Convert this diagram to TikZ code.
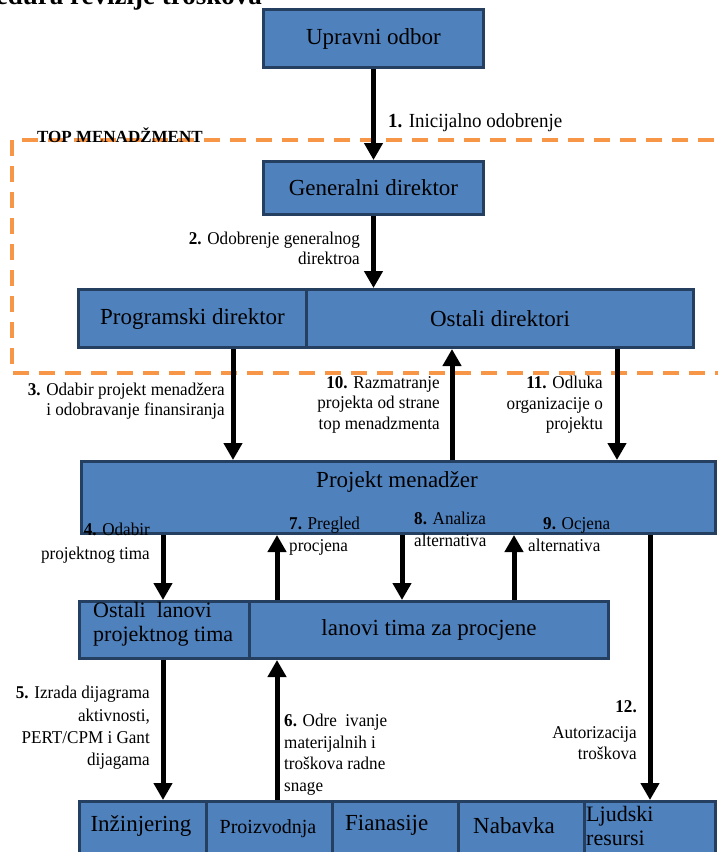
\documentclass[tikz,border=0pt]{standalone}
\usepackage{fontspec}
\setmainfont{Liberation Serif}
\newfontfamily\lblfont{Liberation Serif}[FakeStretch=0.95]
\usetikzlibrary{arrows.meta}
\definecolor{boxfill}{HTML}{4F81BD}
\definecolor{boxline}{HTML}{243F60}
\definecolor{topdash}{HTML}{F79646}
\begin{document}
\begin{tikzpicture}[x=1pt,y=-1pt,
  box/.style={draw=boxline, line width=3pt, fill=boxfill, anchor=north west, inner sep=0pt,
    font=\fontsize{23}{26}\selectfont, align=center},
  boxtxt/.style={inner sep=0pt, font=\fontsize{23}{25}\selectfont, align=left},
  arr/.style={line width=5pt, -{Triangle[width=18pt,length=17pt]}},
  lbl/.style={inner sep=0pt, font=\lblfont\fontsize{18}{21.5}\selectfont},
  dashbox/.style={draw=topdash, line width=4pt, dash pattern=on 16pt off 10pt}]
\useasboundingbox (0,0) rectangle (718,852);

% title (cut at top, as in the reference)
\node[inner sep=0pt, anchor=base east, font=\bfseries\fontsize{27}{30}\selectfont] (title) at (262,4) {Procedura revizije troškova};

% top management region
\draw[dashbox] (740,140) -- (12,140) -- (12,373) -- (740,373);
\node[inner sep=0pt, anchor=base west, font=\bfseries\fontsize{17}{20}\selectfont] (tm) at (37,142) {TOP MENADŽMENT};

% boxes
\node[box, minimum width=220pt, minimum height=58pt] (uo) at (262,8) {Upravni odbor};
\node[box, minimum width=220pt, minimum height=53pt] (gd) at (262,160) {Generalni direktor};
\node[box, minimum width=228pt, minimum height=58pt] (pd) at (77,288) {Programski direktor};
\node[box, minimum width=387pt, minimum height=58pt] (od) at (305,288) {Ostali direktori};
\node[box, minimum width=634pt, minimum height=72pt] (pm) at (80,460) {};
\node[boxtxt] (pmt) at (397,482) {Projekt menadžer};
\node[box, minimum width=170pt, minimum height=57pt] (oc) at (78,600) {};
\node[boxtxt, anchor=north west, font=\fontsize{22}{24}\selectfont] (oct) at (93,602) {Ostali \ lanovi\\projektnog tima};
\node[box, minimum width=359pt, minimum height=57pt] (ct) at (248,600) {lanovi tima za procjene};

\node[box, minimum width=127pt, minimum height=62pt] (b1) at (78,800) {};
\node[box, minimum width=126pt, minimum height=62pt] (b2) at (205,800) {};
\node[box, minimum width=126pt, minimum height=62pt] (b3) at (331,800) {};
\node[box, minimum width=126pt, minimum height=62pt] (b4) at (457,800) {};
\node[box, minimum width=131pt, minimum height=62pt] (b5) at (583,800) {};
\node[boxtxt] (bt1) at (141,826) {Inžinjering};
\node[boxtxt, font=\fontsize{20}{23}\selectfont] (bt2) at (268,829) {Proizvodnja};
\node[boxtxt, anchor=west] (bt3) at (345,825) {Fianasije};
\node[boxtxt, anchor=west] (bt4) at (473,826) {Nabavka};
\node[boxtxt, anchor=north west, font=\fontsize{22}{24}\selectfont] (bt5) at (586,806) {Ljudski\\resursi};

% x positions of connectors
\coordinate (x3) at (233,0);
\coordinate (x10) at (452,0);
\coordinate (x11) at (617,0);
\coordinate (x4) at (163,0);
\coordinate (x7) at (277,0);
\coordinate (x8) at (402,0);
\coordinate (x9) at (514,0);
\coordinate (x12) at (650,0);

% connectors
\draw[arr] (uo.south) -- (gd.north);
\draw[arr] (gd.south) -- (gd.south |- od.north);
\draw[arr] (x3 |- pd.south) -- (x3 |- pm.north);
\draw[arr] (x10 |- pm.north) -- (x10 |- od.south);
\draw[arr] (x11 |- od.south) -- (x11 |- pm.north);
\draw[arr] (x4 |- pm.south) -- (x4 |- oc.north);
\draw[arr] (x7 |- ct.north) -- (x7 |- pm.south);
\draw[arr] (x8 |- pm.south) -- (x8 |- ct.north);
\draw[arr] (x9 |- ct.north) -- (x9 |- pm.south);
\draw[arr] (x12 |- pm.south) -- (x12 |- b5.north);
\draw[arr] (x4 |- oc.south) -- (x4 |- b1.north);
\draw[arr] (x7 |- b2.north) -- (x7 |- ct.south);

% labels
\node[lbl, anchor=west, font=\lblfont\fontsize{20}{23}\selectfont] (l1) at (388,123) {\textbf{1.} Inicijalno odobrenje};
\node[lbl, anchor=north east, align=right, font=\lblfont\fontsize{18}{20}\selectfont] (l2) at (360,232) {\textbf{2.} Odobrenje generalnog\\direktroa};
\node[lbl, anchor=north east, align=right, font=\lblfont\fontsize{18}{20}\selectfont] (l3) at (225,383) {\textbf{3.} Odabir projekt menadžera\\i odobravanje finansiranja};
\node[lbl, anchor=north east, align=right, font=\lblfont\fontsize{18}{20.5}\selectfont] (l10) at (440,376) {\textbf{10.} Razmatranje\\projekta od strane\\top menadzmenta};
\node[lbl, anchor=north east, align=right, font=\lblfont\fontsize{18}{20.5}\selectfont] (l11) at (603,376) {\textbf{11.} Odluka\\organizacije o\\projektu};
\node[lbl, anchor=north east, align=right, font=\lblfont\fontsize{18}{24}\selectfont] (l4) at (150,523) {\textbf{4.} Odabir\\projektnog tima};
\node[lbl, anchor=north west, align=left, font=\lblfont\fontsize{18}{22}\selectfont] (l7) at (289,517) {\textbf{7.} Pregled\\procjena};
\node[lbl, anchor=north west, align=left, font=\lblfont\fontsize{18}{22}\selectfont] (l8) at (414,512) {\textbf{8.} Analiza\\alternativa};
\node[lbl, anchor=north west, align=left, font=\lblfont\fontsize{18}{22}\selectfont] (l9) at (528,517) {\hspace*{15pt}\textbf{9.} Ocjena\\alternativa};
\node[lbl, anchor=north east, align=right, font=\lblfont\fontsize{18}{22.3}\selectfont] (l5) at (150,686) {\textbf{5.} Izrada dijagrama\\aktivnosti,\\PERT/CPM i Gant\\dijagama};
\node[lbl, anchor=north west, align=left, font=\lblfont\fontsize{18}{21.5}\selectfont] (l6) at (284,714) {\textbf{6.} Odre\ \ ivanje\\materijalnih i\\troškova radne\\snage};
\node[lbl, anchor=north east, align=right, font=\lblfont\fontsize{18}{21}\selectfont] (l12) at (637,700) {\textbf{12.}\\[5pt]Autorizacija\\troškova};
\end{tikzpicture}
\end{document}
